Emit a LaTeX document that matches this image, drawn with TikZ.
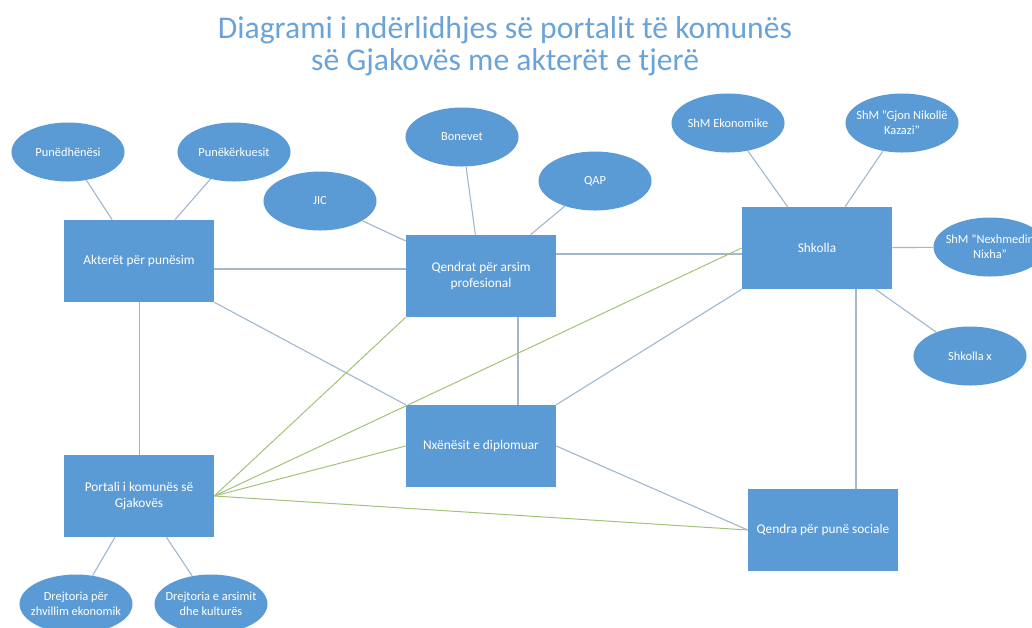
\documentclass[tikz,border=0pt]{standalone}
\usepackage{fontspec}
\setmainfont{Carlito}
\setsansfont{Carlito}
\usetikzlibrary{positioning, shapes.geometric, calc}
\definecolor{officeblue}{HTML}{5B9BD5}
\definecolor{titleblue}{HTML}{69A3D9}
\definecolor{linkgray}{HTML}{A3B8CC}
\definecolor{linkgreen}{HTML}{A2C177}

\begin{document}
\begin{tikzpicture}[
    x=0.025cm, y=-0.025cm,
    font=\sffamily,
    actor/.style={rectangle, fill=officeblue, minimum width=3.75cm, minimum height=2.05cm, inner sep=2pt, align=center, text=white, font=\fontsize{9.5}{11.5}\selectfont\sffamily},
    party/.style={ellipse, fill=officeblue, minimum width=2.825cm, minimum height=1.475cm, inner xsep=-10pt, inner ysep=-4pt, align=center, text=white, font=\fontsize{8.8}{10.5}\selectfont\sffamily},
    link/.style={draw=linkgray, line width=0.8pt},
    portallink/.style={draw=linkgreen, line width=0.7pt}
]
\useasboundingbox (0,0) rectangle (1032,627);
\clip (0,0) rectangle (1032,627);

% ==================== TITLE ====================
\node[align=center, text=titleblue, font=\fontsize{22.5}{23}\selectfont] (title) at (505,46) {Diagrami i ndërlidhjes së portalit të komunës\\së Gjakovës me akterët e tjerë};

% ==================== MAIN ACTORS ====================
\node[actor] (akteret) at (139,261) {Akterët për punësim};
\node[actor] (qendrat) at (481,276) {Qendrat për arsim\\profesional};
\node[actor] (shkolla) at (817,248) {Shkolla};
\node[actor] (nxenesit) at (481,446) {Nxënësit e diplomuar};
\node[actor] (qsociale) at (823,530) {Qendra për punë sociale};
\node[actor] (portali) at (139,496) {Portali i komunës së\\Gjakovës};

% ==================== PARTIES ====================
\node[party] (punedhenesi) at (68,152) {Punëdhënësi};
\node[party] (punekerkuesit) at (234,152) {Punëkërkuesit};
\node[party] (jic) at (320,201) {JIC};
\node[party] (bonevet) at (462,137) {Bonevet};
\node[party] (qap) at (595,181) {QAP};
\node[party] (shmekon) at (728,123) {ShM Ekonomike};
\node[party] (shmgjon) at (902,123) {ShM "Gjon Nikollë\\Kazazi"};
\node[party] (shmnexh) at (990,247) {ShM "Nexhmedin\\Nixha"};
\node[party] (shkollax) at (970,356) {Shkolla x};
\node[party] (drzhvillim) at (76,604) {Drejtoria për\\zhvillim ekonomik};
\node[party] (drarsim) at (211,604) {Drejtoria e arsimit\\dhe kulturës};

% ==================== PARTY LINKS ====================
\draw[link] (punedhenesi) -- (akteret);
\draw[link] (punekerkuesit) -- (akteret);
\draw[link] (jic) -- (qendrat);
\draw[link] (bonevet) -- (qendrat);
\draw[link] (qap) -- (qendrat);
\draw[link] (shmekon) -- (shkolla);
\draw[link] (shmgjon) -- (shkolla);
\draw[link] (shmnexh) -- (shkolla);
\draw[link] (shkollax) -- (shkolla);
\draw[link] (drzhvillim) -- (portali);
\draw[link] (drarsim) -- (portali);

% ==================== ACTOR LINKS ====================
\draw[link] ($(akteret.east)+(0,8)$) -- ($(qendrat.west)+(0,-7)$);
\draw[link] ($(qendrat.east)+(0,-22)$) -- ($(shkolla.west)+(0,6)$);
\draw[link] (akteret.south east) -- (nxenesit.north west);
\draw[link] ($(qendrat.south)+(37,0)$) -- ($(nxenesit.north)+(37,0)$);
\draw[link] (shkolla.south west) -- (nxenesit.north east);
\draw[link] ($(shkolla.south)+(39,0)$) -- ($(qsociale.north)+(33,0)$);
\draw[link] (nxenesit.east) -- (qsociale.west);

% ==================== PORTAL LINKS ====================
\draw[portallink] (akteret.south) -- (portali.north);
\draw[portallink] (portali.east) -- (qendrat.south west);
\draw[portallink] (portali.east) -- (shkolla.west);
\draw[portallink] (portali.east) -- (nxenesit.west);
\draw[portallink] (portali.east) -- (qsociale.west);

\end{tikzpicture}
\end{document}
